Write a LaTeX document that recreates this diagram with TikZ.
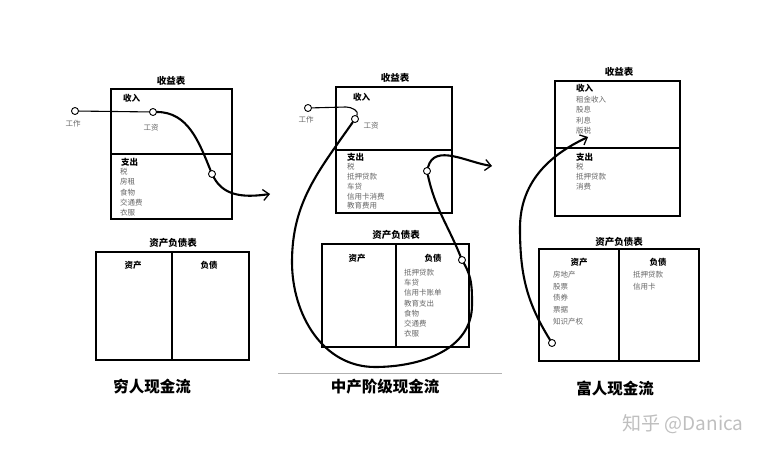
\documentclass[tikz,border=0pt]{standalone}
\usepackage{fontspec}
\setmainfont{Noto Sans CJK SC}
\usepackage{tikz}
\usetikzlibrary{arrows.meta}
\tikzset{box/.style={line width=1.3pt}}
\tikzset{dot/.style={circle, draw, line width=0.9pt, fill=white, inner sep=0pt, minimum size=7pt}}
\tikzset{item/.style={anchor=west, inner sep=0pt, text=black!60, font=\fontsize{7.5}{8}\selectfont}}
\tikzset{small/.style={inner sep=0pt, text=black!60, font=\fontsize{7.5}{8}\selectfont}}
\tikzset{head/.style={anchor=west, inner sep=0pt, font=\bfseries\fontsize{8.5}{9}\selectfont}}
\tikzset{title/.style={inner sep=0pt, font=\bfseries\fontsize{9.5}{10}\selectfont}}
\tikzset{caption/.style={inner sep=0pt, font=\bfseries\fontsize{15.5}{16}\selectfont}}
\tikzset{flow/.style={line width=2.1pt, line cap=round}}
\tikzset{tip/.style={-{Straight Barb[length=6pt,width=11pt,line width=1.3pt]}}}

\begin{document}
\begin{tikzpicture}[x=1pt,y=-1pt]
  \useasboundingbox (0,0) rectangle (780,454);

  % poor
  \draw[box] (111,89) rectangle (232,219);
  \draw[box] (111,154) -- (232,154);
  \node[title] (ptitle) at (171,81) {收益表};
  \node[head] (pin) at (123,98) {收入};
  \node[head] (pout) at (121,162) {支出};
  \foreach \y/\lab in {172/税, 182/房租, 193/食物, 203/交通费, 213/衣服} {
    \node[item] (pe\y) at (120,\y) {\lab};
  }
  \draw[box] (96,252) rectangle (249,360);
  \draw[box] (172,252) -- (172,360);
  \node[title] (pbal) at (173,243) {资产负债表};
  \node[head, anchor=center] (pa) at (133,265) {资产};
  \node[head, anchor=center] (pl) at (209,265) {负债};
  \node[caption] (pcap) at (152,387) {穷人现金流};

  \node[dot] (pw) at (75,111) {};
  \node[small] (pwl) at (73,124) {工作};
  \node[dot] (ps) at (153,112) {};
  \node[small] (psl) at (151,128) {工资};
  \node[dot] (pe) at (212,174) {};
  \coordinate (pend) at (270,194);
  \draw[line width=1.1pt] (pw) -- (ps);
  \draw[flow] (ps) to[out=0,in=112] (pe);
  \draw[flow, tip] (pe) to[out=-62,in=188] (pend);

  % middle class
  \draw[box] (336,87) rectangle (452,213);
  \draw[box] (336,150) -- (452,150);
  \node[title] (mtitle) at (395,78) {收益表};
  \node[head] (min) at (353,97) {收入};
  \node[head] (mout) at (347,157) {支出};
  \foreach \y/\lab in {167/税, 177/抵押贷款, 187/车贷, 197/信用卡消费, 206/教育费用} {
    \node[item] (me\y) at (347,\y) {\lab};
  }
  \draw[box] (322,244) rectangle (469,347);
  \draw[box] (396,244) -- (396,347);
  \node[title] (mbal) at (396,235) {资产负债表};
  \node[head, anchor=center] (ma) at (357,258) {资产};
  \node[head, anchor=center] (ml) at (433,258) {负债};
  \foreach \y/\lab in {273/抵押贷款, 283/车贷, 293/信用卡账单, 304/教育支出, 314/食物, 324/交通费, 334/衣服} {
    \node[item] (mli\y) at (404,\y) {\lab};
  }
  \coordinate (sepl) at (278,373);
  \coordinate (sepr) at (502,373);
  \draw[black!30, line width=0.8pt] (sepl) -- (sepr);
  \node[caption] (mcap) at (385,387) {中产阶级现金流};

  \node[dot] (mw) at (308,108) {};
  \node[small] (mwl) at (306,120) {工作};
  \node[dot] (ms) at (355,119) {};
  \node[small] (msl) at (371,126) {工资};
  \node[dot] (mca) at (427,171) {};
  \node[dot] (mcb) at (462,260) {};
  \coordinate (mcurl) at (346,107);
  \coordinate (mleft) at (292,262);
  \coordinate (mbot) at (375,367);
  \coordinate (mright) at (472,305);
  \coordinate (mend) at (492,166);
  \draw[line width=1.1pt] (mw) -- (mcurl) to[out=0,in=60] (ms);
  \draw[flow] (ms) to[out=235,in=90] (mleft) to[out=270,in=180] (mbot)
    to[out=0,in=270] (mright) to[out=90,in=300] (mcb) to[out=112,in=282] (mca);
  \draw[flow, tip] (mca) to[out=75,in=172] (mend);

  % rich
  \draw[box] (555,81) rectangle (680,216);
  \draw[box] (555,148) -- (680,148);
  \node[title] (rtitle) at (619,72) {收益表};
  \node[head] (rin) at (576,88) {收入};
  \foreach \y/\lab in {100/租金收入, 110/股息, 121/利息, 131/版税} {
    \node[item] (ri\y) at (576,\y) {\lab};
  }
  \node[head] (rout) at (576,157) {支出};
  \foreach \y/\lab in {167/税, 177/抵押贷款, 187/消费} {
    \node[item] (re\y) at (576,\y) {\lab};
  }
  \draw[box] (539,249) rectangle (699,361);
  \draw[box] (619,249) -- (619,361);
  \node[title] (rbal) at (619,242) {资产负债表};
  \node[head, anchor=center] (ra) at (579,262) {资产};
  \node[head, anchor=center] (rl) at (658,262) {负债};
  \foreach \y/\lab in {275/房地产, 287/股票, 298/债券, 310/票据, 322/知识产权} {
    \node[item] (ras\y) at (553,\y) {\lab};
  }
  \foreach \y/\lab in {275/抵押贷款, 287/信用卡} {
    \node[item] (rli\y) at (633,\y) {\lab};
  }
  \node[caption] (rcap) at (615,389) {富人现金流};

  \node[dot] (rc) at (552,343) {};
  \coordinate (rleft) at (520,228);
  \coordinate (rend) at (588,137);
  \draw[flow, tip] (rc) to[out=122,in=270] (rleft) to[out=90,in=205] (rend);

  \node[text=black!25, inner sep=0pt, font=\fontsize{19}{20}\selectfont] (mark) at (683,424) {知乎 @Danica};
\end{tikzpicture}
\end{document}
